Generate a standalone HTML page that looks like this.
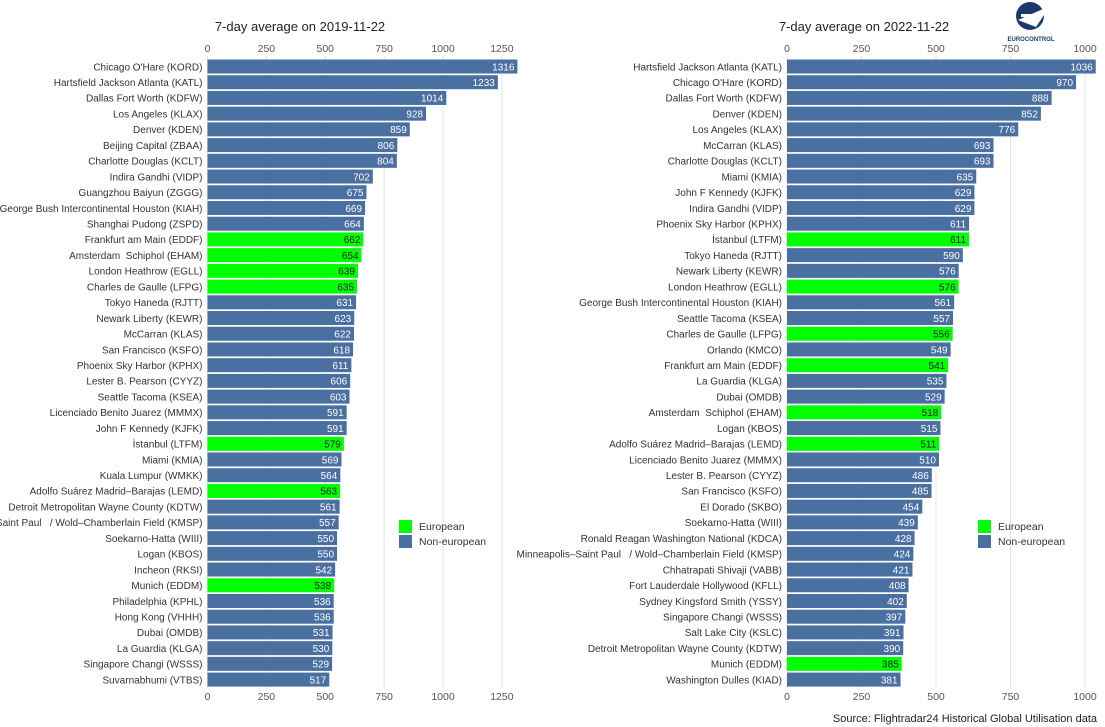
<!DOCTYPE html>
<html><head><meta charset="utf-8"><style>
body{margin:0;background:#fff;}
svg{display:block;font-family:"Liberation Sans",Arial,sans-serif;}
text{white-space:pre;}
</style></head><body>
<svg id="c" width="1105" height="727"></svg>
<script>
const leftNames=["Chicago O'Hare (KORD)","Hartsfield Jackson Atlanta (KATL)","Dallas Fort Worth (KDFW)","Los Angeles (KLAX)","Denver (KDEN)","Beijing Capital (ZBAA)","Charlotte Douglas (KCLT)","Indira Gandhi (VIDP)","Guangzhou Baiyun (ZGGG)","George Bush Intercontinental Houston (KIAH)","Shanghai Pudong (ZSPD)","Frankfurt am Main (EDDF)","Amsterdam  Schiphol (EHAM)","London Heathrow (EGLL)","Charles de Gaulle (LFPG)","Tokyo Haneda (RJTT)","Newark Liberty (KEWR)","McCarran (KLAS)","San Francisco (KSFO)","Phoenix Sky Harbor (KPHX)","Lester B. Pearson (CYYZ)","Seattle Tacoma (KSEA)","Licenciado Benito Juarez (MMMX)","John F Kennedy (KJFK)","İstanbul (LTFM)","Miami (KMIA)","Kuala Lumpur (WMKK)","Adolfo Suárez Madrid–Barajas (LEMD)","Detroit Metropolitan Wayne County (KDTW)","Minneapolis–Saint Paul   / Wold–Chamberlain Field (KMSP)","Soekarno-Hatta (WIII)","Logan (KBOS)","Incheon (RKSI)","Munich (EDDM)","Philadelphia (KPHL)","Hong Kong (VHHH)","Dubai (OMDB)","La Guardia (KLGA)","Singapore Changi (WSSS)","Suvarnabhumi (VTBS)"];
const leftValues=[1316,1233,1014,928,859,806,804,702,675,669,664,662,654,639,635,631,623,622,618,611,606,603,591,591,579,569,564,563,561,557,550,550,542,538,536,536,531,530,529,517];
const leftEuropean=[0,0,0,0,0,0,0,0,0,0,0,1,1,1,1,0,0,0,0,0,0,0,0,0,1,0,0,1,0,0,0,0,0,1,0,0,0,0,0,0];
const rightNames=["Hartsfield Jackson Atlanta (KATL)","Chicago O'Hare (KORD)","Dallas Fort Worth (KDFW)","Denver (KDEN)","Los Angeles (KLAX)","McCarran (KLAS)","Charlotte Douglas (KCLT)","Miami (KMIA)","John F Kennedy (KJFK)","Indira Gandhi (VIDP)","Phoenix Sky Harbor (KPHX)","İstanbul (LTFM)","Tokyo Haneda (RJTT)","Newark Liberty (KEWR)","London Heathrow (EGLL)","George Bush Intercontinental Houston (KIAH)","Seattle Tacoma (KSEA)","Charles de Gaulle (LFPG)","Orlando (KMCO)","Frankfurt am Main (EDDF)","La Guardia (KLGA)","Dubai (OMDB)","Amsterdam  Schiphol (EHAM)","Logan (KBOS)","Adolfo Suárez Madrid–Barajas (LEMD)","Licenciado Benito Juarez (MMMX)","Lester B. Pearson (CYYZ)","San Francisco (KSFO)","El Dorado (SKBO)","Soekarno-Hatta (WIII)","Ronald Reagan Washington National (KDCA)","Minneapolis–Saint Paul   / Wold–Chamberlain Field (KMSP)","Chhatrapati Shivaji (VABB)","Fort Lauderdale Hollywood (KFLL)","Sydney Kingsford Smith (YSSY)","Singapore Changi (WSSS)","Salt Lake City (KSLC)","Detroit Metropolitan Wayne County (KDTW)","Munich (EDDM)","Washington Dulles (KIAD)"];
const rightValues=[1036,970,888,852,776,693,693,635,629,629,611,611,590,576,576,561,557,556,549,541,535,529,518,515,511,510,486,485,454,439,428,424,421,408,402,397,391,390,385,381];
const rightEuropean=[0,0,0,0,0,0,0,0,0,0,0,1,0,0,1,0,0,1,0,1,0,0,1,0,1,0,0,0,0,0,0,0,0,0,0,0,0,0,1,0];
const leftTicks=[0,250,500,750,1000,1250];
const rightTicks=[0,250,500,750,1000];

const svg=document.getElementById('c');
const NS='http://www.w3.org/2000/svg';
function mk(t,a,p){const e=document.createElementNS(NS,t);for(const k in a)e.setAttribute(k,a[k]);(p||svg).appendChild(e);return e;}
const BLUE='#4a6fa1',GREEN='#00ff00';
const rowY=i=>66.5+i*15.72;

function panel(id,names,vals,eur,ticks,x0,scale,title,titleX,legX){
  const g=mk('g',{});
  
  
  const xs=v=>x0+v*scale;
  const t=mk('text',{x:titleX,y:31,'font-size':13,fill:'#222','text-anchor':'middle'},g);t.textContent=title;
  
  ticks.forEach(v=>{
    const l=mk('line',{x1:xs(v),x2:xs(v),y1:56,y2:688,stroke:'#e3e3e3','stroke-width':1},g);
    
    [52,700].forEach(y=>{const tt=mk('text',{x:xs(v),y:y,'font-size':10.5,fill:'#555','text-anchor':'middle'},g);tt.textContent=v;
      });
  });
  names.forEach((n,i)=>{
    const y=rowY(i);
    const b=mk('rect',{x:xs(0),y:y-7,width:vals[i]*scale,height:14,fill:eur[i]?GREEN:BLUE},g);
    
    const lab=mk('text',{x:xs(0)-5,y:y+3.8,'font-size':10,fill:'#333','text-anchor':'end'},g);lab.textContent=n;
    
    const vl=mk('text',{x:xs(vals[i])-3,y:y+3.8,'font-size':10,fill:eur[i]?'#222':'#fff','text-anchor':'end'},g);vl.textContent=vals[i];
    
  });
  [[GREEN,'European',526],[BLUE,'Non-european',541]].forEach(([c,txt,y])=>{
    const r=mk('rect',{x:legX,y:y-6,width:13,height:13,fill:c},g);
    
    const lt=mk('text',{x:legX+20,y:y+4,'font-size':10.5,fill:'#333'},g);lt.textContent=txt;
    
  });
}
panel('left-panel-2019',leftNames,leftValues,leftEuropean,leftTicks,207.5,0.2355,'7-day average on 2019-11-22',300,399);
panel('right-panel-2022',rightNames,rightValues,rightEuropean,rightTicks,787,0.298,'7-day average on 2022-11-22',864,978);

// logo
const lg=mk('g',{});

mk('ellipse',{cx:1030,cy:16,rx:14,ry:14,fill:'#1b3a6b'},lg);
mk('path',{d:'M1018 20 L1050 6 L1036 27 Z',fill:'#fff'},lg);
mk('rect',{x:1021,y:14,width:16,height:3,fill:'#fff'},lg);
const lt=mk('text',{x:1031,y:41,'font-size':6,'font-weight':'bold',fill:'#1b3a6b','text-anchor':'middle'},lg);lt.textContent='EUROCONTROL';

const src=mk('text',{x:1097,y:722,'font-size':11,fill:'#222','text-anchor':'end'});
src.textContent='Source: Flightradar24 Historical Global Utilisation data';


</script>
</body></html>
